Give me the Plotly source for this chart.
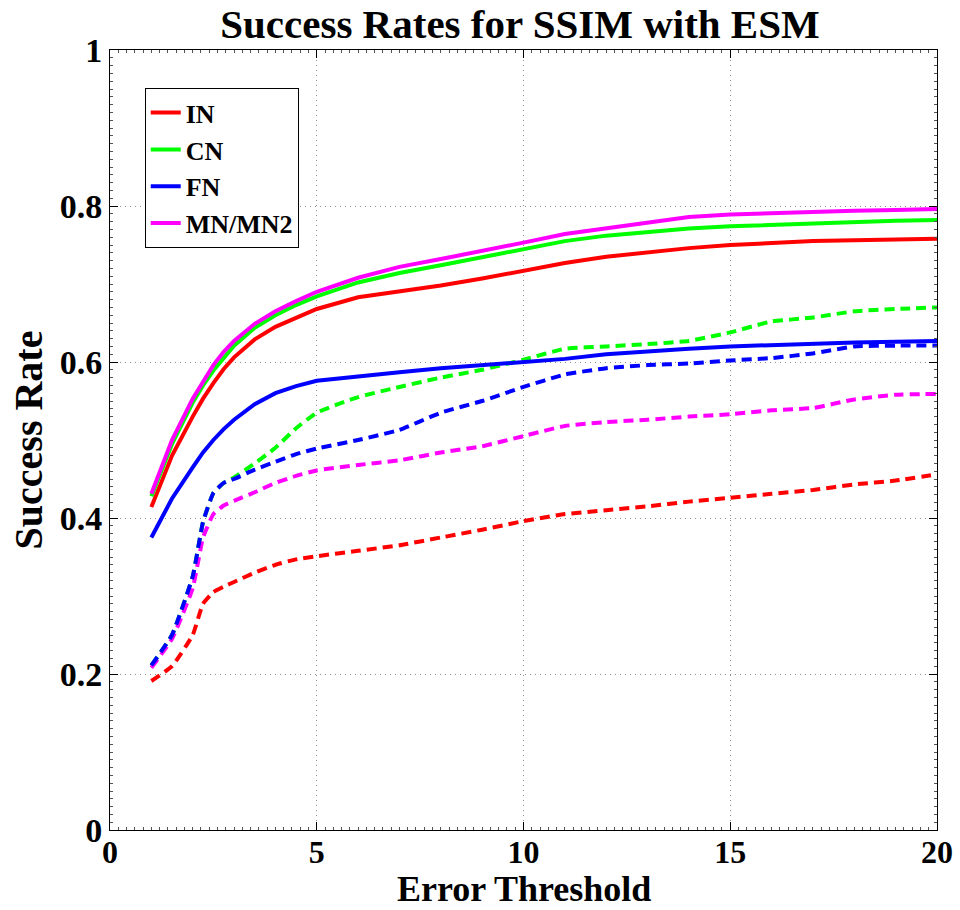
import plotly.graph_objects as go

# Error thresholds (x) shared by all curves
threshold = [1, 1.5, 2, 2.25, 2.5, 2.75, 3, 3.5, 4, 4.5, 5, 6, 7, 8, 9, 10,
             11, 12, 13, 14, 15, 16, 17, 18, 19, 20]

# Solid curves (legend entries)
in_solid = [0.414, 0.480, 0.530, 0.553, 0.573, 0.591, 0.606, 0.629, 0.645, 0.657, 0.668,
            0.683, 0.690, 0.698, 0.707, 0.717, 0.727, 0.735, 0.741, 0.746, 0.750,
            0.753, 0.755, 0.756, 0.757, 0.758]
cn_solid = [0.428, 0.495, 0.548, 0.570, 0.589, 0.606, 0.621, 0.644, 0.660, 0.673, 0.684,
            0.702, 0.714, 0.724, 0.734, 0.745, 0.755, 0.762, 0.767, 0.771, 0.774,
            0.776, 0.778, 0.779, 0.781, 0.782]
fn_solid = [0.375, 0.425, 0.465, 0.484, 0.500, 0.514, 0.526, 0.546, 0.560, 0.569, 0.576,
            0.582, 0.587, 0.592, 0.596, 0.600, 0.604, 0.610, 0.614, 0.617, 0.620,
            0.622, 0.624, 0.625, 0.626, 0.627]
mn_solid = [0.431, 0.500, 0.553, 0.575, 0.596, 0.613, 0.627, 0.649, 0.665, 0.678, 0.690,
            0.708, 0.722, 0.732, 0.742, 0.753, 0.764, 0.771, 0.778, 0.786, 0.789,
            0.791, 0.793, 0.794, 0.795, 0.796]

# Dashed curves
in_dash = [0.191, 0.210, 0.250, 0.290, 0.305, 0.312, 0.318, 0.330, 0.340, 0.347, 0.351,
           0.358, 0.365, 0.375, 0.385, 0.396, 0.405, 0.410, 0.415, 0.421, 0.426,
           0.431, 0.436, 0.443, 0.448, 0.456]
cn_dash = [0.211, 0.250, 0.325, 0.395, 0.432, 0.445, 0.452, 0.470, 0.490, 0.515, 0.535,
           0.555, 0.568, 0.580, 0.590, 0.603, 0.617, 0.620, 0.623, 0.627, 0.638,
           0.652, 0.657, 0.665, 0.668, 0.670]
fn_dash = [0.211, 0.250, 0.325, 0.395, 0.432, 0.445, 0.450, 0.462, 0.472, 0.482, 0.489,
           0.500, 0.513, 0.535, 0.550, 0.568, 0.584, 0.592, 0.596, 0.598, 0.602,
           0.605, 0.611, 0.620, 0.621, 0.621]
mn_dash = [0.208, 0.245, 0.310, 0.375, 0.405, 0.416, 0.422, 0.433, 0.445, 0.454, 0.461,
           0.468, 0.474, 0.484, 0.492, 0.505, 0.518, 0.523, 0.526, 0.530, 0.533,
           0.538, 0.541, 0.552, 0.558, 0.559]

names = ["IN", "CN", "FN", "MN/MN2"]
colors = ["#ff0000", "#00ff00", "#0000ff", "#ff00ff"]
solid = [in_solid, cn_solid, fn_solid, mn_solid]
dashed = [in_dash, cn_dash, fn_dash, mn_dash]

x_ticks = [0, 5, 10, 15, 20]
y_ticks = [0, 0.2, 0.4, 0.6, 0.8, 1]
y_tick_text = ["0", "0.2", "0.4", "0.6", "0.8", "1"]

FONT = "Liberation Serif"

fig = go.Figure()
# dashed first (drawn below), blue dash on top of green/magenta at the start
for i in [0, 1, 3, 2]:
    fig.add_trace(go.Scatter(x=threshold, y=dashed[i], mode="lines", showlegend=False,
                             line=dict(color=colors[i], width=4, dash="10px,6px",
                                       shape="spline", smoothing=0.4),
                             hoverinfo="skip"))
for i in range(4):
    fig.add_trace(go.Scatter(x=threshold, y=solid[i], mode="lines", name=names[i],
                             line=dict(color=colors[i], width=4, dash="solid")))

axis_common = dict(
    showline=True, linecolor="black", linewidth=1, mirror="allticks",
    ticks="inside", ticklen=8, tickcolor="black", tickwidth=1,
    showgrid=True, gridcolor="#8c8c8c", griddash="1px,4px", gridwidth=1,
    zeroline=False,
)
tick_font = dict(family=FONT, size=34, color="black", weight="bold")

fig.update_layout(
    width=960, height=910,
    margin=dict(l=110, r=23, t=50, b=80),
    paper_bgcolor="white", plot_bgcolor="white",
    title=dict(text="Success Rates for SSIM with ESM", x=520 / 960, xref="container",
               y=1 - 24 / 910, yref="container", xanchor="center", yanchor="middle",
               font=dict(family=FONT, size=41, color="black", weight="bold")),
    xaxis=dict(range=[0, 20], tickvals=x_ticks, ticklabelstandoff=-6,
               tickfont=dict(tick_font, size=32),
               minor=dict(ticks="inside", ticklen=3, dtick=0.2, tickcolor="#555",
                          showgrid=False),
               automargin=False, **axis_common),
    yaxis=dict(range=[0, 1], tickvals=y_ticks, ticktext=y_tick_text,
               tickfont=tick_font,
               title=dict(text="Success Rate", standoff=4,
                          font=dict(family=FONT, size=40, color="black", weight="bold")),
               minor=dict(ticks="inside", ticklen=3, dtick=0.01, tickcolor="#555",
                          showgrid=False),
               automargin=False, **axis_common),
    legend=dict(x=0.042, y=0.951, xanchor="left", yanchor="top",
                bgcolor="white", bordercolor="black", borderwidth=1,
                font=dict(family=FONT, size=26, color="black", weight="bold"),
                tracegroupgap=0, itemwidth=30),
    showlegend=True,
    annotations=[dict(text="Error Threshold", xref="paper", x=0.5, yref="paper",
                      y=-(888 - 829) / 779, xanchor="center", yanchor="middle",
                      showarrow=False,
                      font=dict(family=FONT, size=36, color="black", weight="bold"))],
)

fig.write_html("out.html")
